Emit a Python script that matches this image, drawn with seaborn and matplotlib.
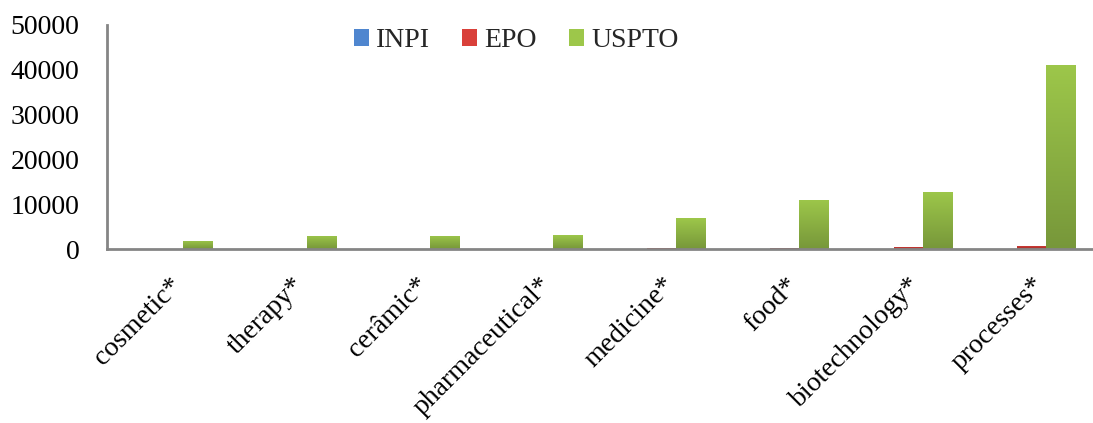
import numpy as np
import pandas as pd
import matplotlib
matplotlib.use("Agg")
import matplotlib.pyplot as plt
import seaborn as sns
from matplotlib.colors import LinearSegmentedColormap
from matplotlib.patches import Patch

categories = ["cosmetic*", "therapy*", "cerâmic*", "pharmaceutical*",
              "medicine*", "food*", "biotechnology*", "processes*"]
offices = ["INPI", "EPO", "USPTO"]
inpi = [10, 10, 10, 10, 30, 30, 40, 60]
epo = [40, 60, 50, 60, 200, 250, 500, 750]
uspto = [1800, 3000, 3000, 3100, 6900, 11000, 12800, 41100]
y_ticks = [0, 10000, 20000, 30000, 40000, 50000]

colors_top = {"INPI": "#4F86CF", "EPO": "#D9403A", "USPTO": "#9DC74A"}
colors_bot = {"INPI": "#2E5A95", "EPO": "#A32A27", "USPTO": "#77973A"}

df = pd.DataFrame({
    "category": np.repeat(categories, 3),
    "office": offices * len(categories),
    "count": [v for trio in zip(inpi, epo, uspto) for v in trio],
})

sns.set_theme(style="white")
plt.rcParams["font.family"] = ["Liberation Serif", "DejaVu Serif"]

fig = plt.figure(figsize=(10.93, 4.23), dpi=100)
ax = fig.add_axes([0.098, 0.411, 0.902, 0.530])

sns.barplot(data=df, x="category", y="count", hue="office",
            hue_order=offices, order=categories,
            palette=[colors_top[o] for o in offices],
            width=0.71, ax=ax, legend=False, errorbar=None,
            saturation=1.0)

# vertical gradient fill on each bar
grad = np.linspace(0, 1, 256).reshape(-1, 1)
for container, office in zip(ax.containers, offices):
    cmap = LinearSegmentedColormap.from_list(
        office, [colors_bot[office], colors_top[office]])
    for patch in container.patches:
        x0, y0 = patch.get_x(), patch.get_y()
        w, h = patch.get_width(), patch.get_height()
        if h <= 0:
            continue
        im = ax.imshow(grad, cmap=cmap, origin="lower", aspect="auto",
                       extent=[x0, x0 + w, y0, y0 + h], zorder=patch.get_zorder())
        im.set_clip_path(patch)
        patch.set_facecolor("none")
        patch.set_edgecolor("none")

ax.set_xlim(-0.5, len(categories) - 0.5)
ax.set_ylim(0, 50000)
ax.set_yticks(y_ticks)
ax.set_yticklabels([str(t) for t in y_ticks])
ax.set_xlabel("")
ax.set_ylabel("")

for side in ["top", "right"]:
    ax.spines[side].set_visible(False)
for side in ["left", "bottom"]:
    ax.spines[side].set_color("#858585")
    ax.spines[side].set_linewidth(2)

ax.tick_params(axis="y", length=0, pad=20, labelsize=20, colors="black")
ax.tick_params(axis="x", length=0, pad=17, labelsize=20, colors="black")
for lbl in ax.get_xticklabels():
    lbl.set_rotation(45)
    lbl.set_ha("right")
    lbl.set_rotation_mode("anchor")

handles = [Patch(facecolor=colors_top[o], edgecolor="none") for o in offices]
ax.legend(handles, offices, loc="center", bbox_to_anchor=(0.415, 0.93),
          ncol=3, frameon=False, fontsize=20, handlelength=0.55,
          handleheight=0.55, handletextpad=0.25, columnspacing=1.15)

fig.savefig("out.png", dpi=100, facecolor="white")
